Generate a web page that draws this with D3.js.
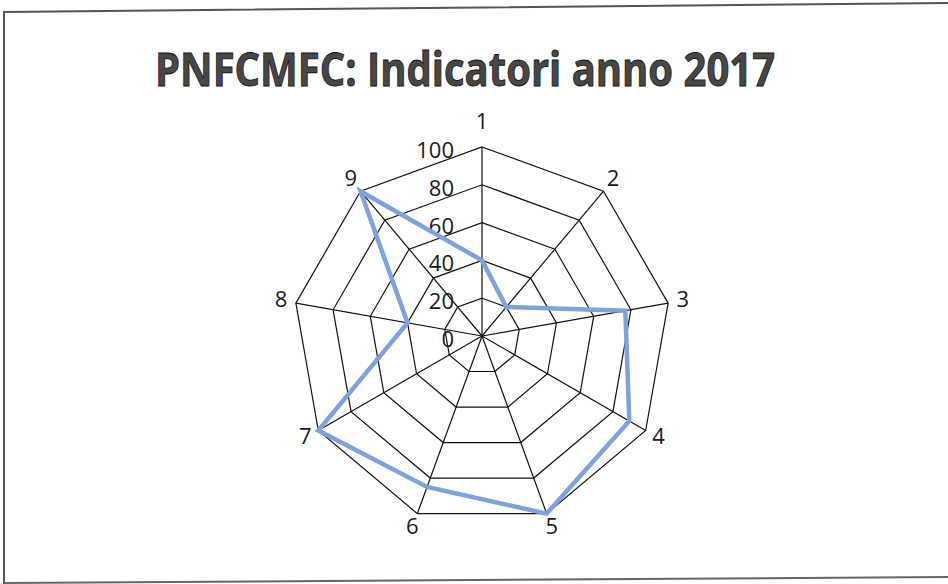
<!DOCTYPE html>
<html>
<head>
<meta charset="utf-8">
<script src="https://cdn.jsdelivr.net/npm/d3@7"></script>
<style>
  html, body { margin: 0; padding: 0; background: #fff; }
  svg { display: block; }
</style>
</head>
<body>
<script>
// dati
let categories = ["1", "2", "3", "4", "5", "6", "7", "8", "9"];
let values = [40, 20, 77, 90, 100, 85, 100, 40, 100];
let ticks = [0, 20, 40, 60, 80, 100];

let width = 948,
    height = 584,
    cx = 482,
    cy = 336,
    radius = 189;

let svg = d3.select("body").append("svg")
    .attr("width", width).attr("height", height);

// cornice (scansione leggermente storta)
svg.append("path")
    .attr("d", "M4,584 L4,12 L948,3")
    .attr("fill", "none").attr("stroke", "#555").attr("stroke-width", 2);
svg.append("path")
    .attr("d", "M4,583 L948,577")
    .attr("fill", "none").attr("stroke", "#666").attr("stroke-width", 2);

// titolo
svg.append("text")
    .attr("x", 465).attr("y", 86)
    .attr("text-anchor", "middle")
    .attr("font-family", "'Open Sans', sans-serif")
    .attr("font-weight", "bold")
    .attr("font-size", 46)
    .attr("textLength", 620)
    .attr("lengthAdjust", "spacingAndGlyphs")
    .attr("fill", "#474747")
    .attr("stroke", "#111").attr("stroke-width", 0.8)
    .text("PNFCMFC: Indicatori anno 2017");

let rScale = d3.scaleLinear().domain([0, 100]).range([0, radius]);
let aScale = d3.scaleLinear().domain([0, categories.length]).range([0, 2 * Math.PI]);

let g = svg.append("g").attr("transform", "translate(" + cx + "," + cy + ")");

let pt = (i, v) => [rScale(v) * Math.sin(aScale(i)), -rScale(v) * Math.cos(aScale(i))];

// anelli
let ring = d3.line().curve(d3.curveLinearClosed);
g.selectAll(".ring").data(ticks.slice(1)).enter().append("path")
    .attr("class", "ring")
    .attr("d", (t) => ring(categories.map((c, i) => pt(i, t))))
    .attr("fill", "none").attr("stroke", "#111").attr("stroke-width", 1.2);

// raggi
g.selectAll(".spoke").data(categories).enter().append("line")
    .attr("class", "spoke")
    .attr("x1", 0).attr("y1", 0)
    .attr("x2", (d, i) => pt(i, 100)[0])
    .attr("y2", (d, i) => pt(i, 100)[1])
    .attr("stroke", "#111").attr("stroke-width", 1.2);

// etichette scala
g.selectAll(".tick").data(ticks).enter().append("text")
    .attr("class", "tick")
    .attr("x", -28)
    .attr("y", (t) => -rScale(t) + 2)
    .attr("text-anchor", "end")
    .attr("dominant-baseline", "central")
    .attr("font-family", "'Open Sans', sans-serif")
    .attr("font-size", 22)
    .attr("fill", "#1a1a1a")
    .text((t) => t);

// etichette categorie
g.selectAll(".cat").data(categories).enter().append("text")
    .attr("class", "cat")
    .attr("x", (d, i) => (radius + 15) * Math.sin(aScale(i)))
    .attr("y", (d, i) => -(radius + 15) * Math.cos(aScale(i)) - (i === 0 ? 12 : 3))
    .attr("text-anchor", "middle")
    .attr("dominant-baseline", "central")
    .attr("font-family", "'Open Sans', sans-serif")
    .attr("font-size", 22)
    .attr("fill", "#1a1a1a")
    .text((d) => d);

// serie
g.append("path")
    .attr("d", ring(values.map((v, i) => pt(i, v))))
    .attr("fill", "none")
    .attr("stroke", "#7fa2dc")
    .attr("stroke-width", 4.5)
    .attr("stroke-linejoin", "miter");
</script>
</body>
</html>
